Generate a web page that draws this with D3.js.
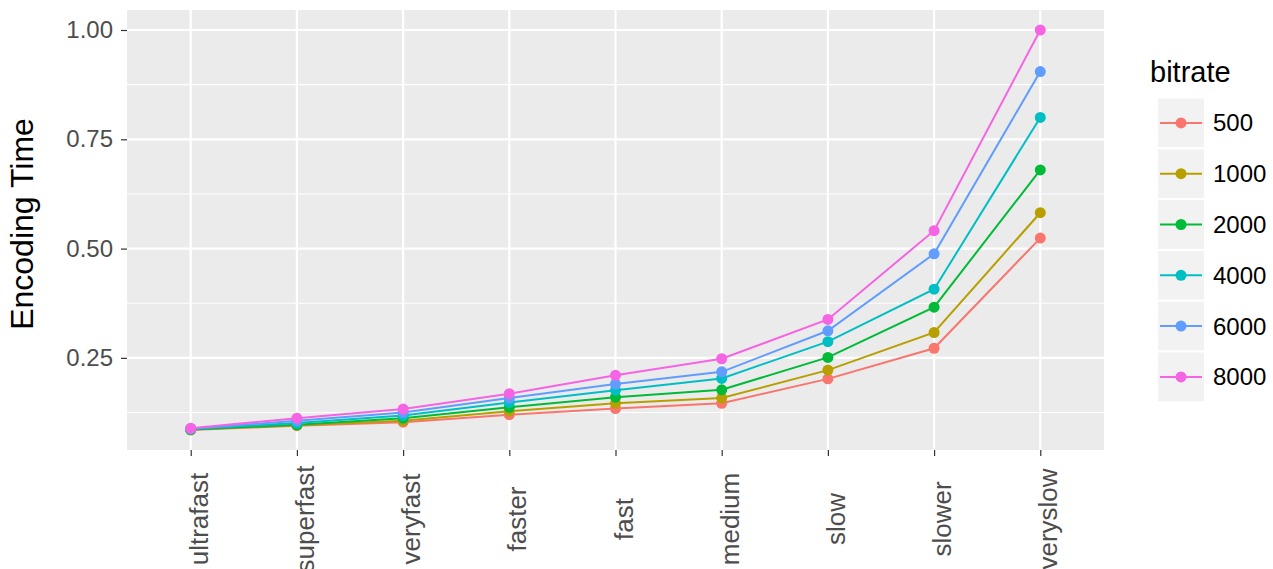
<!DOCTYPE html>
<html>
<head>
<meta charset="utf-8">
<script src="https://cdn.jsdelivr.net/npm/d3@7"></script>
<style>
  html, body { margin: 0; padding: 0; background: #ffffff; }
  svg { display: block; font-family: "Liberation Sans", Arial, Helvetica, sans-serif; }
</style>
</head>
<body>
<svg id="chart" width="1273" height="569"></svg>
<script>
// ---- data ----
const presets = ["ultrafast", "superfast", "veryfast", "faster", "fast", "medium", "slow", "slower", "veryslow"];
const bitrates = ["500", "1000", "2000", "4000", "6000", "8000"];
const colors = ["#F8766D", "#B79F00", "#00BA38", "#00BFC4", "#619CFF", "#F564E3"];
const yTicks = [0.25, 0.50, 0.75, 1.00];
const yTickLabels = ["0.25", "0.50", "0.75", "1.00"];
const time500  = [0.085, 0.095, 0.103, 0.120, 0.134, 0.146, 0.202, 0.272, 0.524];
const time1000 = [0.086, 0.096, 0.106, 0.128, 0.146, 0.158, 0.222, 0.308, 0.582];
const time2000 = [0.086, 0.097, 0.112, 0.137, 0.160, 0.177, 0.251, 0.366, 0.680];
const time4000 = [0.087, 0.101, 0.118, 0.148, 0.176, 0.203, 0.287, 0.407, 0.800];
const time6000 = [0.088, 0.106, 0.125, 0.158, 0.190, 0.218, 0.312, 0.488, 0.905];
const time8000 = [0.089, 0.112, 0.133, 0.168, 0.210, 0.248, 0.338, 0.541, 1.000];
const series = [time500, time1000, time2000, time4000, time6000, time8000];
const xTitle = "";
const yTitle = "Encoding Time";
const legendTitle = "bitrate";

// ---- layout ----
const svg = d3.select("#chart");
const panel = { left: 127, right: 1104, top: 10, bottom: 450 };

const x = d3.scalePoint().domain(presets).range([panel.left, panel.right]).padding(0.6);
const allVals = series.flat();
const yMin = d3.min(allVals), yMax = d3.max(allVals);
const pad = (yMax - yMin) * 0.05;
const y = d3.scaleLinear().domain([yMin - pad, yMax + pad]).range([panel.bottom, panel.top]);

// panel background
svg.append("rect")
  .attr("x", panel.left).attr("y", panel.top)
  .attr("width", panel.right - panel.left).attr("height", panel.bottom - panel.top)
  .attr("fill", "#EBEBEB");

// minor gridlines (y)
const minor = [];
for (let i = 0; i < yTicks.length - 1; i++) minor.push((yTicks[i] + yTicks[i + 1]) / 2);
minor.push(yTicks[0] - (yTicks[1] - yTicks[0]) / 2);
minor.filter(v => v >= y.domain()[0] && v <= y.domain()[1]).forEach(v => {
  svg.append("line")
    .attr("x1", panel.left).attr("x2", panel.right)
    .attr("y1", y(v)).attr("y2", y(v))
    .attr("stroke", "#FFFFFF").attr("stroke-width", 1.1);
});
// major gridlines
yTicks.forEach(v => {
  svg.append("line")
    .attr("x1", panel.left).attr("x2", panel.right)
    .attr("y1", y(v)).attr("y2", y(v))
    .attr("stroke", "#FFFFFF").attr("stroke-width", 2.2);
});
presets.forEach(p => {
  svg.append("line")
    .attr("x1", x(p)).attr("x2", x(p))
    .attr("y1", panel.top).attr("y2", panel.bottom)
    .attr("stroke", "#FFFFFF").attr("stroke-width", 2.2);
});

// lines & points
const line = d3.line().x((d, i) => x(presets[i])).y(d => y(d));
series.forEach((s, k) => {
  svg.append("path")
    .datum(s)
    .attr("d", line)
    .attr("fill", "none")
    .attr("stroke", colors[k])
    .attr("stroke-width", 2);
});
series.forEach((s, k) => {
  svg.selectAll(null).data(s).enter().append("circle")
    .attr("cx", (d, i) => x(presets[i]))
    .attr("cy", d => y(d))
    .attr("r", 5.5)
    .attr("fill", colors[k]);
});

// y axis
const yAxis = d3.axisLeft(y).tickValues(yTicks).tickFormat((d, i) => yTickLabels[i]).tickSize(6).tickPadding(8);
const gy = svg.append("g").attr("transform", `translate(${panel.left},0)`).call(yAxis);
gy.select(".domain").remove();
gy.selectAll(".tick line").attr("stroke", "#333333").attr("stroke-width", 1.2);
gy.selectAll(".tick text").attr("fill", "#4D4D4D").style("font-size", "24px")
  .attr("font-family", "'Liberation Sans', Arial, sans-serif");

// x axis
const xAxis = d3.axisBottom(x).tickSize(6).tickFormat("");
const gx = svg.append("g").attr("transform", `translate(0,${panel.bottom})`).call(xAxis);
gx.select(".domain").remove();
gx.selectAll(".tick line").attr("stroke", "#333333").attr("stroke-width", 1.2);
presets.forEach(p => {
  svg.append("text")
    .attr("transform", `translate(${x(p) + 17},519) rotate(-90)`)
    .attr("text-anchor", "middle")
    .attr("fill", "#4D4D4D")
    .style("font-size", "26px")
    .text(p);
});

// y title
svg.append("text")
  .attr("transform", `translate(33,224) rotate(-90)`)
  .attr("text-anchor", "middle")
  .attr("fill", "#000000")
  .style("font-size", "32px")
  .text(yTitle);

// legend
const lg = svg.append("g");
lg.append("text")
  .attr("x", 1150).attr("y", 82)
  .attr("fill", "#000000")
  .style("font-size", "29px")
  .text(legendTitle);
const keyH = 50.8, keyW = 48, keyTop = 97.5, keyLeft = 1157;
bitrates.forEach((b, k) => {
  const top = keyTop + k * keyH;
  const cy = top + keyH / 2;
  lg.append("rect")
    .attr("x", keyLeft).attr("y", top)
    .attr("width", keyW).attr("height", keyH)
    .attr("fill", "#F2F2F2").attr("stroke", "#FFFFFF").attr("stroke-width", 2);
  lg.append("line")
    .attr("x1", keyLeft + 3).attr("x2", keyLeft + keyW - 3)
    .attr("y1", cy).attr("y2", cy)
    .attr("stroke", colors[k]).attr("stroke-width", 2);
  lg.append("circle")
    .attr("cx", keyLeft + keyW / 2).attr("cy", cy).attr("r", 5.5)
    .attr("fill", colors[k]);
  lg.append("text")
    .attr("x", 1213).attr("y", cy + 8.5)
    .attr("fill", "#000000")
    .style("font-size", "24px")
    .text(b);
});
</script>
</body>
</html>
